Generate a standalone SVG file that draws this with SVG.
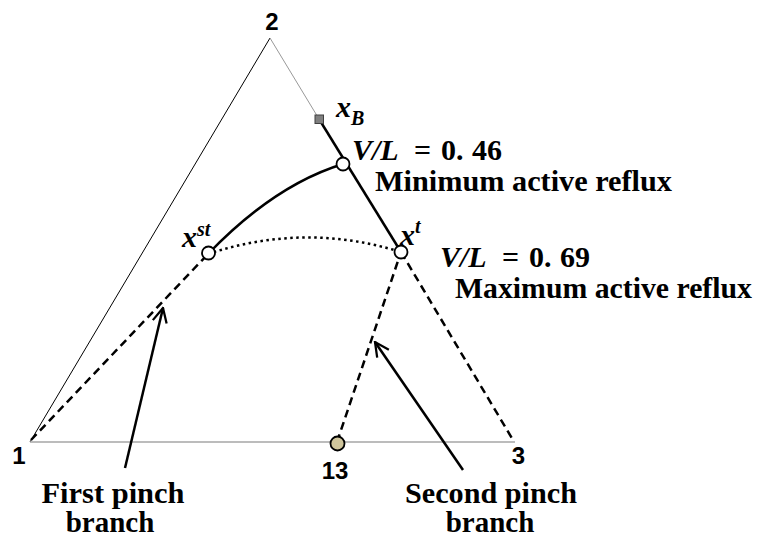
<svg xmlns="http://www.w3.org/2000/svg" width="763" height="540" viewBox="0 0 763 540">
<style>
.lbl{font-family:"Liberation Serif",serif;font-weight:bold;font-size:29px;fill:#000}
.num{font-family:"Liberation Sans",Arial,sans-serif;font-weight:bold;font-size:24px;fill:#000;text-anchor:middle}
.math{font-family:"Liberation Serif",serif;font-weight:bold;font-size:30px;fill:#000}
.it{font-style:italic}
.thick{fill:none;stroke:#000;stroke-width:2.5}
.dash{fill:none;stroke:#000;stroke-width:2.5;stroke-dasharray:8 5}
.dot{fill:none;stroke:#000;stroke-width:2.5;stroke-dasharray:2.5 3.5}
.arrow{fill:none;stroke:#000;stroke-width:2.5}
.pt{fill:#fff;stroke:#000;stroke-width:1.8}
</style>
<defs>
<marker id="open" viewBox="0 0 12 12" refX="11" refY="6" markerWidth="17" markerHeight="17" markerUnits="userSpaceOnUse" orient="auto">
<path d="M1,1 L11,6 L1,11" fill="none" stroke="#000" stroke-width="1.6"/>
</marker>
</defs>
<g id="triangle">
<line x1="30" y1="442" x2="270" y2="38" stroke="#000" stroke-width="1"/>
<line x1="270" y1="38" x2="319" y2="119" stroke="#999" stroke-width="1"/>
<line x1="30" y1="442" x2="515" y2="442" stroke="#a6a6a6" stroke-width="1.5"/>
</g>
<g id="connectors">
<line class="thick" x1="319" y1="119" x2="401" y2="252"/>
<path class="thick" d="M208,254 Q274.5,185 343,164"/>
<path class="dot" d="M208,254 Q304.5,222 401,252"/>
<line class="dash" x1="31" y1="440" x2="208" y2="254"/>
<line class="dash" x1="337" y1="442" x2="401" y2="252"/>
<line class="dash" x1="401" y1="252" x2="513" y2="440"/>
<line class="arrow" x1="125" y1="468" x2="163" y2="308" marker-end="url(#open)"/>
<line class="arrow" x1="463" y1="470" x2="375" y2="342" marker-end="url(#open)"/>
</g>
<g id="node-xB"><rect x="315" y="115" width="8.5" height="8.5" fill="#7f7f7f" stroke="#404040" stroke-width="1"/></g>
<g id="node-min"><circle class="pt" cx="343" cy="164" r="6.5"/></g>
<g id="node-xst"><circle class="pt" cx="208.5" cy="253" r="6.5"/></g>
<g id="node-xt"><circle class="pt" cx="401" cy="252" r="6.5"/></g>
<g id="node-13"><circle cx="337.5" cy="443.5" r="7" fill="#cfc59c" stroke="#000" stroke-width="1.8"/></g>
<g id="labels">
<text class="num" x="272" y="30" font-size="26">2</text>
<text class="num" x="19" y="464">1</text>
<text class="num" x="518.5" y="464">3</text>
<text class="num" x="335" y="479">13</text>
<text class="math it" x="336" y="117" font-size="29">x<tspan font-size="20" dy="8">B</tspan></text>
<text class="math it" x="182" y="247" font-size="29">x<tspan font-size="20" dy="-11">st</tspan></text>
<text class="math it" x="400" y="245" font-size="29">x<tspan font-size="20" dy="-12">t</tspan></text>
<text class="math it" x="352" y="160">V/L</text>
<text class="math" x="414" y="160">=</text>
<text class="math" x="441" y="160">0.</text>
<text class="math" x="472" y="160">46</text>
<text class="lbl" x="375" y="191" textLength="297" lengthAdjust="spacingAndGlyphs">Minimum active reflux</text>
<text class="math it" x="440" y="267">V/L</text>
<text class="math" x="502" y="267">=</text>
<text class="math" x="529" y="267">0.</text>
<text class="math" x="560" y="267">69</text>
<text class="lbl" x="455" y="298" textLength="297" lengthAdjust="spacingAndGlyphs">Maximum active reflux</text>
<text class="lbl" x="113" y="503" text-anchor="middle" textLength="143" lengthAdjust="spacingAndGlyphs">First pinch</text>
<text class="lbl" x="110" y="532" text-anchor="middle">branch</text>
<text class="lbl" x="491" y="503" text-anchor="middle" textLength="172" lengthAdjust="spacingAndGlyphs">Second pinch</text>
<text class="lbl" x="490" y="532" text-anchor="middle">branch</text>
</g>
</svg>
